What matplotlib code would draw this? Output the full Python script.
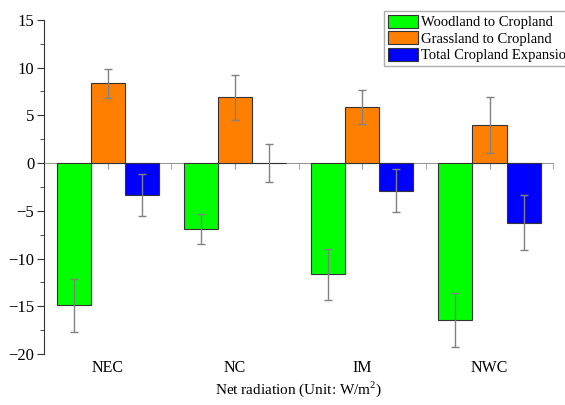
import numpy as np
import matplotlib
matplotlib.use("Agg")
import matplotlib.pyplot as plt
from matplotlib.ticker import MultipleLocator

plt.rcParams['font.family'] = ['Liberation Serif', 'DejaVu Serif']
plt.rcParams['mathtext.fontset'] = 'custom'
plt.rcParams['mathtext.rm'] = 'Liberation Serif'

regions = ['NEC', 'NC', 'IM', 'NWC']
series = ['Woodland to Cropland', 'Grassland to Cropland', 'Total Cropland Expansion']
colors = ['#00ff00', '#ff8000', '#0000ff']

woodland = [-14.9, -6.95, -11.65, -16.45]
woodland_err = [2.75, 1.57, 2.66, 2.8]
grassland = [8.35, 6.88, 5.85, 4.0]
grassland_err = [1.5, 2.35, 1.77, 2.97]
total = [-3.35, 0.0, -2.9, -6.25]
total_err = [2.15, 1.95, 2.25, 2.88]

values = [woodland, grassland, total]
errors = [woodland_err, grassland_err, total_err]

fig = plt.figure(figsize=(5.65, 4.05), dpi=100)
ax = fig.add_axes([0.078, 0.126, 0.901, 0.825])

x = np.arange(1, len(regions) + 1)
w = 0.268
handles = []
for i in range(3):
    b = ax.bar(x + (i - 1) * w, values[i], w, color=colors[i],
               edgecolor='#333333', linewidth=0.8, zorder=2)
    ax.errorbar(x + (i - 1) * w, values[i], yerr=errors[i], fmt='none',
                ecolor='#808080', elinewidth=1, capsize=3, capthick=1, zorder=3)
    handles.append(b)

ax.set_xlim(0.5, 4.5)
ax.set_ylim(-20, 15)
ax.yaxis.set_major_locator(MultipleLocator(5))
ax.yaxis.set_minor_locator(MultipleLocator(2.5))
ax.tick_params(axis='y', which='both', direction='out', labelsize=12,
               color='#333333', length=5, pad=2)
ax.tick_params(axis='y', which='minor', length=3)

ax.spines['top'].set_visible(False)
ax.spines['right'].set_visible(False)
ax.spines['left'].set_color('#333333')
ax.spines['bottom'].set_position(('data', 0))
ax.spines['bottom'].set_color('#999999')
ax.spines['bottom'].set_zorder(1)
ax.set_xticks(x)
ax.set_xticks(x + 0.5, minor=True)
ax.tick_params(axis='x', which='both', direction='out', length=4,
               color='#999999', labelbottom=False)

sec = ax.secondary_xaxis('bottom')
sec.set_xticks(x)
sec.set_xticklabels(regions)
sec.tick_params(length=0, labelsize=11.5, pad=4)
sec.spines['bottom'].set_visible(False)
sec.set_xlabel('Net radiation (Unit: W/m$^2$)', fontsize=11, labelpad=3)

ax.set_yticklabels([str(int(t)).replace('-', '\u2212') for t in ax.get_yticks()])

fig.legend(handles, series, loc='upper left', bbox_to_anchor=(0.68, 0.972),
           fontsize=10.5, frameon=True, fancybox=False, edgecolor='#999999',
           handlelength=2.1, handleheight=0.95, labelspacing=0.15,
           borderpad=0.25, handletextpad=0.2, borderaxespad=0)

fig.savefig('out.png', dpi=100)
